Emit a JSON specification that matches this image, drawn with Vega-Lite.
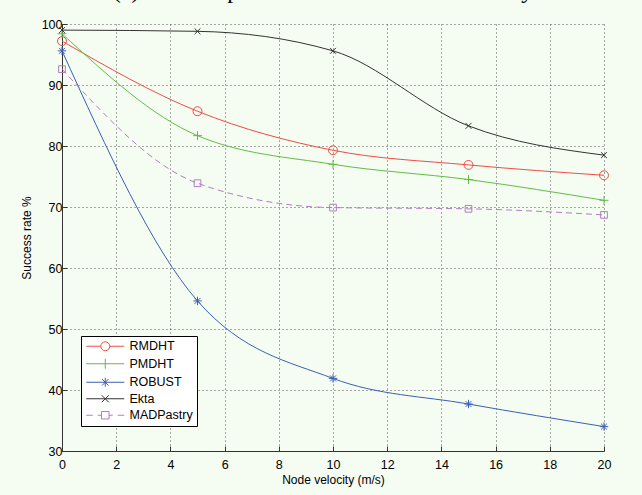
{
  "$schema": "https://vega.github.io/schema/vega-lite/v6.json",
  "width": 542,
  "height": 427,
  "autosize": "none",
  "padding": {"left": 62, "top": 24, "right": 38, "bottom": 44},
  "background": "#f5fcf2",
  "title": {"text": "(c) Success performance with node velocity", "font": "Liberation Serif", "fontSize": 24, "fontWeight": "normal", "color": "#000", "baseline": "alphabetic", "offset": -4, "anchor": "middle", "dx": -10},
  "config": {"view": {"stroke": null}, "font": "Liberation Sans"},
  "data": {"values": [
    {"s": "RMDHT", "v": 0, "r": 97.2}, {"s": "RMDHT", "v": 5, "r": 85.7}, {"s": "RMDHT", "v": 10, "r": 79.3}, {"s": "RMDHT", "v": 15, "r": 76.9}, {"s": "RMDHT", "v": 20, "r": 75.2},
    {"s": "PMDHT", "v": 0, "r": 98.4}, {"s": "PMDHT", "v": 5, "r": 81.7}, {"s": "PMDHT", "v": 10, "r": 77.0}, {"s": "PMDHT", "v": 15, "r": 74.5}, {"s": "PMDHT", "v": 20, "r": 71.1},
    {"s": "ROBUST", "v": 0, "r": 95.6}, {"s": "ROBUST", "v": 5, "r": 54.6}, {"s": "ROBUST", "v": 10, "r": 41.9}, {"s": "ROBUST", "v": 15, "r": 37.7}, {"s": "ROBUST", "v": 20, "r": 34.0},
    {"s": "Ekta", "v": 0, "r": 99.0}, {"s": "Ekta", "v": 5, "r": 98.8}, {"s": "Ekta", "v": 10, "r": 95.6}, {"s": "Ekta", "v": 15, "r": 83.3}, {"s": "Ekta", "v": 20, "r": 78.5},
    {"s": "MADPastry", "v": 0, "r": 92.6}, {"s": "MADPastry", "v": 5, "r": 73.9}, {"s": "MADPastry", "v": 10, "r": 69.9}, {"s": "MADPastry", "v": 15, "r": 69.7}, {"s": "MADPastry", "v": 20, "r": 68.7}
  ]},
  "encoding": {
    "x": {"field": "v", "type": "quantitative", "scale": {"domain": [0, 20], "nice": false, "zero": false},
      "axis": {"values": [0, 2, 4, 6, 8, 10, 12, 14, 16, 18, 20], "format": "d", "grid": true, "gridDash": [1, 3], "gridColor": "#555", "gridWidth": 1, "gridOpacity": 1,
        "domainColor": "#333", "tickColor": "#333", "tickSize": -5, "labelPadding": 12, "labelFontSize": 12.5, "labelColor": "#000", "labelFlush": false,
        "title": "Node velocity (m/s)", "titleFontSize": 12, "titleFontWeight": "normal", "titleColor": "#000", "titlePadding": 4}},
    "y": {"field": "r", "type": "quantitative", "scale": {"domain": [30, 100], "nice": false, "zero": false},
      "axis": {"values": [30, 40, 50, 60, 70, 80, 90, 100], "format": "d", "grid": true, "gridDash": [1, 3], "gridColor": "#555", "gridWidth": 1, "gridOpacity": 1,
        "domainColor": "#333", "tickColor": "#333", "tickSize": -5, "labelPadding": 5, "labelFontSize": 12.5, "labelColor": "#000", "labelFlush": false,
        "title": "Success rate %", "titleFontSize": 12, "titleFontWeight": "normal", "titleColor": "#000", "titlePadding": 8}},
    "color": {"field": "s", "type": "nominal",
      "scale": {"domain": ["RMDHT", "PMDHT", "ROBUST", "Ekta", "MADPastry"], "range": ["#ec4d47", "#62bd45", "#3b5fb5", "#333333", "#b47cc4"]},
      "legend": {"orient": "none", "legendX": 19, "legendY": 312, "title": null, "padding": 4, "strokeColor": "#000", "fillColor": "#fff",
        "symbolSize": 100, "symbolOffset": 14, "labelOffset": 18, "rowPadding": 3.5, "labelFontSize": 12.5, "labelFont": "Liberation Sans", "labelColor": "#000", "symbolStrokeWidth": 1,
        "encode": {"symbols": {"update": {
          "shape": {"signal": "datum.value === 'RMDHT' ? 'M-3.8,0L-0.9,0M0.9,0L3.8,0M0.9,0A0.9,0.9,0,1,1,-0.9,0A0.9,0.9,0,1,1,0.9,0' : datum.value === 'PMDHT' ? 'M-3.8,0L3.8,0M0,-1L0,1' : datum.value === 'ROBUST' ? 'M-3.8,0L3.8,0M0,-0.9L0,0.9M-0.65,-0.65L0.65,0.65M-0.65,0.65L0.65,-0.65' : datum.value === 'Ekta' ? 'M-3.8,0L3.8,0M-0.7,-0.7L0.7,0.7M-0.7,0.7L0.7,-0.7' : 'M-3.8,0L-2.5,0M-1.5,0L-0.75,0M0.75,0L1.5,0M2.5,0L3.8,0M-0.75,-0.75L0.75,-0.75L0.75,0.75L-0.75,0.75Z'"},
          "size": {"value": 100}, "fill": {"value": "transparent"}, "strokeWidth": {"value": 1}, "opacity": {"value": 1}}}}}
    }
  },
  "layer": [
    {"transform": [{"filter": "datum.s !== 'MADPastry'"}], "mark": {"type": "line", "interpolate": "monotone", "strokeWidth": 1}},
    {"transform": [{"filter": "datum.s === 'MADPastry'"}], "mark": {"type": "line", "interpolate": "monotone", "strokeWidth": 1, "strokeDash": [6, 4]}},
    {"transform": [{"filter": "datum.s === 'RMDHT'"}], "mark": {"type": "point", "filled": false, "size": 80, "strokeWidth": 1, "opacity": 1, "shape": "M1,0A1,1,0,1,1,-1,0A1,1,0,1,1,1,0Z"}},
    {"transform": [{"filter": "datum.s === 'PMDHT'"}], "mark": {"type": "point", "filled": false, "size": 80, "strokeWidth": 1, "opacity": 1, "shape": "M-1,0L1,0M0,-1L0,1"}},
    {"transform": [{"filter": "datum.s === 'ROBUST'"}], "mark": {"type": "point", "filled": false, "size": 70, "strokeWidth": 1, "opacity": 1, "shape": "M-1,0L1,0M0,-1L0,1M-0.7,-0.7L0.7,0.7M-0.7,0.7L0.7,-0.7"}},
    {"transform": [{"filter": "datum.s === 'Ekta'"}], "mark": {"type": "point", "filled": false, "size": 70, "strokeWidth": 1, "opacity": 1, "shape": "M-0.7,-0.7L0.7,0.7M-0.7,0.7L0.7,-0.7"}},
    {"transform": [{"filter": "datum.s === 'MADPastry'"}], "mark": {"type": "point", "filled": false, "size": 80, "strokeWidth": 1, "opacity": 1, "shape": "M-0.75,-0.75L0.75,-0.75L0.75,0.75L-0.75,0.75Z"}}
  ]
}
